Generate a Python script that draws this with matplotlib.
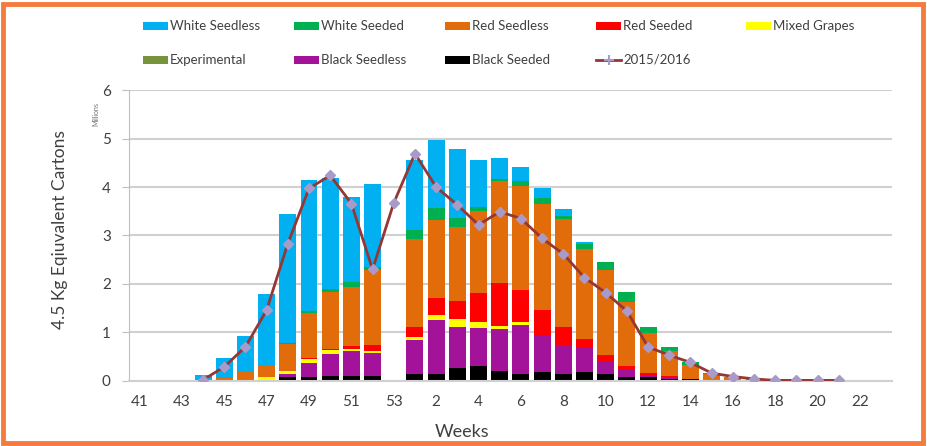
import matplotlib.pyplot as plt
from matplotlib.patches import Rectangle
from matplotlib.lines import Line2D
import numpy as np

# semanas de la temporada (41..53, 1..23)
weeks = [str(w) for w in range(41, 54)] + [str(w) for w in range(1, 24)]
tick_labels = [w if i % 2 == 0 else "" for i, w in enumerate(weeks)]

# valores en millones de cajas, una entrada por semana
black_seeded = [0, 0, 0, 0, 0, 0, 0, 0.07, 0.09, 0.10, 0.10, 0.10, 0,
                0.14, 0.14, 0.26, 0.31, 0.21, 0.14, 0.18, 0.14, 0.18, 0.14, 0.09, 0.07, 0.04,
                0.03, 0, 0, 0, 0, 0, 0, 0, 0, 0]
black_seedless = [0, 0, 0, 0, 0, 0, 0, 0.07, 0.27, 0.45, 0.52, 0.47, 0,
                  0.70, 1.11, 0.85, 0.79, 0.87, 1.01, 0.76, 0.60, 0.49, 0.24, 0.15, 0.05, 0.04,
                  0, 0, 0, 0, 0, 0, 0, 0, 0, 0]
experimental = [0] * 36
mixed_grapes = [0, 0, 0, 0, 0, 0.02, 0.07, 0.07, 0.09, 0.09, 0.04, 0.05, 0,
                0.07, 0.11, 0.16, 0.11, 0.06, 0.06, 0, 0, 0, 0, 0, 0, 0,
                0, 0, 0, 0, 0, 0, 0, 0, 0, 0]
red_seeded = [0, 0, 0, 0, 0, 0, 0, 0, 0.02, 0.02, 0.06, 0.12, 0,
              0.20, 0.36, 0.38, 0.61, 0.87, 0.67, 0.52, 0.37, 0.19, 0.15, 0.07, 0.05, 0.02,
              0, 0, 0, 0, 0, 0, 0, 0, 0, 0]
red_seedless = [0, 0, 0, 0, 0.06, 0.17, 0.24, 0.56, 0.94, 1.17, 1.21, 1.55, 0,
                1.82, 1.59, 1.52, 1.68, 2.12, 2.14, 2.20, 2.24, 1.86, 1.75, 1.32, 0.81, 0.52,
                0.30, 0.14, 0.08, 0.04, 0.02, 0.01, 0.01, 0.01, 0, 0]
white_seeded = [0, 0, 0, 0, 0, 0, 0, 0.02, 0.04, 0.06, 0.11, 0.06, 0,
                0.19, 0.25, 0.20, 0.08, 0.04, 0.11, 0.11, 0.06, 0.11, 0.18, 0.20, 0.13, 0.07,
                0.05, 0.02, 0, 0, 0, 0, 0, 0, 0, 0]
white_seedless = [0, 0, 0, 0.12, 0.41, 0.73, 1.49, 2.65, 2.70, 2.30, 1.76, 1.72, 0,
                  1.44, 1.42, 1.41, 0.97, 0.42, 0.29, 0.22, 0.14, 0.04, 0, 0, 0, 0,
                  0, 0, 0, 0, 0, 0, 0, 0, 0, 0]
prev_season = [None, None, None, 0.02, 0.29, 0.70, 1.46, 2.83, 3.97, 4.24, 3.66, 2.30, 3.67,
               4.69, 4.00, 3.63, 3.22, 3.49, 3.35, 2.94, 2.62, 2.13, 1.82, 1.44, 0.70, 0.53,
               0.38, 0.16, 0.09, 0.04, 0.01, 0.01, 0.01, 0.01, None, None]

# de abajo hacia arriba en la pila
series = [
    ("Black Seeded", black_seeded, "#000000"),
    ("Black Seedless", black_seedless, "#A2139A"),
    ("Experimental", experimental, "#77933C"),
    ("Mixed Grapes", mixed_grapes, "#FFFF00"),
    ("Red Seeded", red_seeded, "#FF0000"),
    ("Red Seedless", red_seedless, "#E36C0A"),
    ("White Seeded", white_seeded, "#00B050"),
    ("White Seedless", white_seedless, "#00B0F0"),
]
colors = {name: c for name, _, c in series}

fnt = ["Lato", "DejaVu Sans"]

fig = plt.figure(figsize=(9.27, 4.46), dpi=100)
ax = fig.add_axes([0.139, 0.146, 0.823, 0.652])

x = np.arange(len(weeks))
bottom = np.zeros(len(weeks))
for name, vals, c in series:
    v = np.array(vals, dtype=float)
    ax.bar(x, v, 0.8, bottom=bottom, color=c, linewidth=0, zorder=2)
    bottom += v

yy = np.array([np.nan if v is None else v for v in prev_season])
ax.plot(x, yy, color="#953735", lw=2, marker="D", ms=5,
        mfc="#A99BC9", mec="#A99BC9", zorder=3)

ax.set_xlim(-0.5, len(weeks) - 0.5)
ax.set_ylim(0, 6)
ax.set_yticks(range(7))
ax.set_xticks(x)
ax.set_xticklabels(tick_labels, fontsize=11, color="#404040", family=fnt)
for t in ax.get_yticklabels():
    t.set_fontsize(11)
    t.set_color("#404040")
    t.set_family(fnt)
ax.tick_params(axis="x", length=0, pad=10)
ax.tick_params(axis="y", length=5, color="#BFBFBF", pad=8)
ax.grid(axis="y", color="#D0D0D0", lw=1.5, zorder=0)
ax.set_axisbelow(True)
for s in ["top", "right"]:
    ax.spines[s].set_visible(False)
ax.spines["left"].set_color("#BFBFBF")
ax.spines["bottom"].set_color("#D0D0D0")
ax.spines["bottom"].set_linewidth(1.5)

fig.text(0.065, 0.485, "4.5 Kg Eqiuvalent Cartons", rotation=90, ha="center",
         va="center", fontsize=12.5, color="#404040", family=fnt)
fig.text(0.498, 0.032, "Weeks", ha="center", va="center", fontsize=13,
         color="#404040", family=fnt)
fig.text(0.103, 0.745, "Millions", rotation=90, ha="center", va="center",
         fontsize=5, color="#707070", family=fnt)

# leyenda estilo Excel, columnas fijas
legend_items = [
    ("White Seedless", 143, 26), ("White Seeded", 294, 26), ("Red Seedless", 445, 26),
    ("Red Seeded", 596, 26), ("Mixed Grapes", 746, 26),
    ("Experimental", 143, 60), ("Black Seedless", 294, 60), ("Black Seeded", 445, 60),
    ("2015/2016", 596, 60),
]
W, H = 927.0, 446.0
for name, px, py in legend_items:
    if name == "2015/2016":
        fig.add_artist(Line2D([px / W, (px + 25) / W], [1 - py / H] * 2,
                              color="#953735", lw=2))
        fig.add_artist(Line2D([(px + 12.5) / W], [1 - py / H], marker="+",
                              ms=7, mew=1.5, color="#A99BC9"))
    else:
        fig.add_artist(Rectangle((px / W, 1 - (py + 4) / H), 25 / W, 8 / H,
                                 color=colors[name], lw=0))
    fig.text((px + 27) / W, 1 - py / H, name, ha="left", va="center",
             fontsize=9.5, color="#404040", family=fnt)

# marco naranja
fig.add_artist(Rectangle((3 / W, 3 / H), 920 / W, 439 / H, fill=False,
                         ec="#F47B3B", lw=3.5))

fig.savefig("out.png", dpi=100)
